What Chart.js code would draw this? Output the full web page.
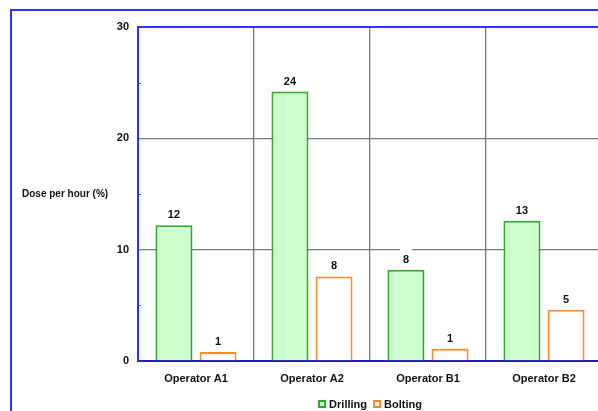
<!DOCTYPE html>
<html>
<head>
<meta charset="utf-8">
<script src="https://cdn.jsdelivr.net/npm/chart.js@4"></script>
<style>
  html, body { margin:0; padding:0; background:#fff; overflow:hidden; width:598px; height:411px; }
  #frame { position:absolute; left:10px; top:9px; width:700px; height:500px; border:2px solid #3030ff; box-sizing:border-box; }
  #wrap { position:absolute; left:0; top:0; width:610px; height:411px; }
</style>
</head>
<body>
<div id="frame"></div>
<div id="wrap"><canvas id="c" width="610" height="411"></canvas></div>
<script>
const categories = ["Operator A1", "Operator A2", "Operator B1", "Operator B2"];
const drilling = [12.2, 24.2, 8.2, 12.6];
const bolting = [0.8, 7.6, 1.1, 4.6];
const yTicks = [0, 10, 20, 30];
const minorTicks = [5, 15, 25];
const yTitle = "Dose per hour (%)";

const FONT = "'Liberation Sans', Arial, sans-serif";
const GRID = '#7a7a7a';

const extras = {
  id: 'extras',
  afterDatasetsDraw(chart) {
    const ctx = chart.ctx;
    const ca = chart.chartArea;
    const y = chart.scales.y;
    ctx.save();
    // top border of plot area
    ctx.strokeStyle = '#3030ff';
    ctx.lineWidth = 2;
    ctx.beginPath();
    ctx.moveTo(ca.left, ca.top); ctx.lineTo(ca.right + 10, ca.top);
    ctx.stroke();
    // minor ticks
    ctx.strokeStyle = '#5050c0';
    ctx.lineWidth = 1;
    minorTicks.forEach(v => {
      const py = Math.round(y.getPixelForValue(v)) + 0.5;
      ctx.beginPath(); ctx.moveTo(ca.left, py); ctx.lineTo(ca.left + 3, py); ctx.stroke();
    });
    // data labels
    ctx.font = "bold 11px " + FONT;
    ctx.textAlign = 'center';
    ctx.textBaseline = 'middle';
    chart.data.datasets.forEach((ds, di) => {
      const meta = chart.getDatasetMeta(di);
      meta.data.forEach((bar, i) => {
        const txt = String(Math.round(ds.data[i]));
        const w = ctx.measureText(txt).width;
        const cy = bar.y - 10;
        ctx.fillStyle = '#fff';
        ctx.fillRect(bar.x - w / 2 - 3, cy - 11, w + 6, bar.y - 1 - (cy - 11));
        ctx.fillStyle = '#111';
        ctx.fillText(txt, bar.x, cy);
      });
    });
    // y title
    ctx.textAlign = 'left';
    ctx.font = "bold 10px " + FONT;
    ctx.fillText(yTitle, 22, 194);
    // legend
    const items = chart.data.datasets.map(d => ({label: d.label, fill: d.backgroundColor, stroke: d.borderColor}));
    ctx.font = "bold 11px " + FONT;
    const box = 8, gap = 3, sep = 6;
    let total = 0;
    items.forEach(it => { it.w = box + gap + ctx.measureText(it.label).width; total += it.w; });
    total += sep * (items.length - 1);
    let x = (ca.left + ca.right) / 2 - total / 2;
    const ly = 404;
    items.forEach(it => {
      ctx.fillStyle = it.fill;
      ctx.fillRect(x, ly - box / 2, box, box);
      ctx.strokeStyle = it.stroke;
      ctx.lineWidth = 2;
      ctx.strokeRect(x + 1, ly - box / 2 + 1, box - 2, box - 2);
      ctx.fillStyle = '#111';
      ctx.fillText(it.label, x + box + gap, ly + 0.5);
      x += it.w + sep;
    });
    ctx.restore();
  }
};

new Chart(document.getElementById('c'), {
  type: 'bar',
  data: {
    labels: categories,
    datasets: [
      { label: 'Drilling', data: drilling, backgroundColor: '#ccffcc', borderColor: '#2ea82e', borderWidth: 2 },
      { label: 'Bolting', data: bolting, backgroundColor: '#ffffff', borderColor: '#ff8a2a', borderWidth: 2 }
    ]
  },
  options: {
    responsive: false,
    animation: false,
    devicePixelRatio: 1,
    layout: { padding: { left: 0, top: 27, right: 8, bottom: 0 } },
    plugins: { legend: { display: false }, tooltip: { enabled: false } },
    datasets: { bar: { categoryPercentage: 0.76, barPercentage: 0.84 } },
    scales: {
      x: {
        grid: {
          offset: true,
          drawTicks: false,
          color: (c) => c.index === 0 ? 'rgba(0,0,0,0)' : GRID,
          lineWidth: 1.3
        },
        border: { display: true, color: '#2020b0', width: 2 },
        ticks: { color: '#111', font: { family: FONT, size: 11, weight: 'bold' }, padding: 11 },
        afterFit(s) { s.height = 50; }
      },
      y: {
        min: 0, max: 30,
        afterBuildTicks(s) { s.ticks = yTicks.map(v => ({ value: v })); },
        grid: {
          drawTicks: false,
          color: (c) => (c.tick && (c.tick.value === 10 || c.tick.value === 20)) ? GRID : 'rgba(0,0,0,0)',
          lineWidth: 1.3
        },
        border: { display: true, color: '#3030ff', width: 2 },
        ticks: { color: '#111', font: { family: FONT, size: 11, weight: 'bold' }, padding: 9 },
        afterFit(s) { s.width = 138; }
      }
    }
  },
  plugins: [extras]
});
</script>
</body>
</html>
